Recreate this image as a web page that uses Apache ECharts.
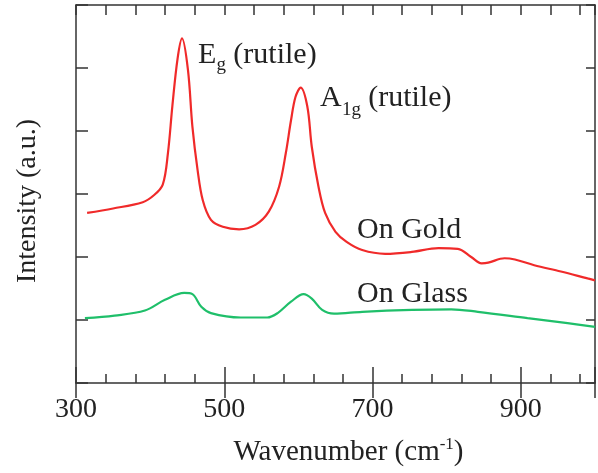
<!DOCTYPE html>
<html>
<head>
<meta charset="utf-8">
<script src="https://cdn.jsdelivr.net/npm/echarts@6/dist/echarts.min.js"></script>
<style>
    html, body {margin: 0; padding: 0; background: #fff;}
    #chart {width: 598px; height: 473px;}
</style>
</head>
<body>
<div id="chart"></div>
<script>
    // Raman spectra (wavenumber, intensity in tick units)
    var goldWn = [315, 350, 390, 405, 417, 424, 430, 437, 443, 451, 457, 464, 471, 482, 498, 520, 542, 560, 574, 583,
        590, 596, 603, 612, 618, 627, 636, 650, 665, 686, 717, 753, 789, 815, 833, 847, 856, 878, 892, 918, 954, 990, 1000];
    var goldVal = [2.70, 2.77, 2.87, 2.98, 3.15, 3.65, 4.40, 5.15, 5.47, 4.97, 4.07, 3.38, 2.90, 2.59, 2.48, 2.44, 2.51, 2.72, 3.12, 3.65,
        4.17, 4.54, 4.69, 4.39, 3.75, 3.12, 2.70, 2.40, 2.24, 2.11, 2.05, 2.08, 2.14, 2.13, 2.00, 1.90, 1.91, 1.98, 1.96, 1.87, 1.77, 1.66, 1.63];
    var glassWn = [312, 352, 393, 420, 446, 457, 469, 482, 522, 558, 572, 590, 607, 618, 632, 648, 686, 753, 806, 842, 909, 963, 1000];
    var glassVal = [1.03, 1.07, 1.15, 1.32, 1.43, 1.41, 1.21, 1.11, 1.04, 1.04, 1.11, 1.29, 1.41, 1.34, 1.16, 1.10, 1.13, 1.16, 1.17, 1.13, 1.03, 0.95, 0.89];
    var xLabels = [300, 500, 700, 900];

    var font = 'Liberation Serif';
    var ink = '#222';
    var frame = {lineStyle: {color: '#333', width: 1.5}};

    var pairs = function (xs, ys) {
        return xs.map(function (x, i) {
            return [x, ys[i]];
        });
    };
    // subscript tokens are transparent placeholders, the visible subscript is drawn lower by sub()
    var rich = {
        m: {fontFamily: font, fontSize: 30, lineHeight: 30, fill: ink},
        s: {fontFamily: font, fontSize: 19, lineHeight: 30, fill: 'rgba(0,0,0,0)'}
    };
    var note = function (text, x, y) {
        return {type: 'text', x: x, y: y, z: 10, style: {text: text, rich: rich, fill: ink}};
    };
    var sub = function (text, x, y) {
        return {type: 'text', x: x, y: y, z: 10, style: {text: text, fontFamily: font, fontSize: 19, fill: ink}};
    };

    var xBase = {
        type: 'value', min: 300, max: 1000,
        axisLine: {show: true, onZero: false, lineStyle: frame.lineStyle},
        splitLine: {show: false}
    };
    var yBase = {
        type: 'value', min: 0, max: 6, interval: 1,
        axisLabel: {show: false},
        splitLine: {show: false}
    };

    var option = {
        backgroundColor: '#fff',
        animation: false,
        grid: {left: 76, right: 0, top: 5, bottom: 90}
    };

    option.xAxis = [
        Object.assign({}, xBase, {
            position: 'bottom', interval: 40,
            axisTick: {inside: true, length: 9, lineStyle: frame.lineStyle},
            axisLabel: {show: false}
        }),
        Object.assign({}, xBase, {
            position: 'bottom', interval: 200,
            axisLine: {show: false},
            axisTick: {inside: true, length: 16, lineStyle: frame.lineStyle},
            axisLabel: {
                margin: 13, fontFamily: font, fontSize: 28, color: ink,
                formatter: function (v) {
                    return xLabels.indexOf(v) >= 0 ? String(v) : '';
                }
            },
            name: '{a|Wavenumber (cm}{s|-1}{a|)}',
            nameLocation: 'middle',
            nameGap: 53,
            nameTextStyle: {
                padding: [0, 0, 0, 26],
                rich: {
                    a: {fontFamily: font, fontSize: 29, lineHeight: 32, color: ink},
                    s: {fontFamily: font, fontSize: 17, lineHeight: 16, verticalAlign: 'top', color: ink}
                }
            }
        }),
        Object.assign({}, xBase, {
            position: 'top', interval: 40,
            axisTick: {inside: true, length: 10, lineStyle: frame.lineStyle},
            axisLabel: {show: false}
        }),
        Object.assign({}, xBase, {
            position: 'top', interval: 200,
            axisLine: {show: false},
            axisTick: {inside: true, length: 15, lineStyle: frame.lineStyle},
            axisLabel: {show: false}
        })
    ];
    option.yAxis = [
        Object.assign({}, yBase, {
            position: 'left',
            axisLine: {show: true, lineStyle: frame.lineStyle},
            axisTick: {inside: true, length: 12, lineStyle: frame.lineStyle},
            name: 'Intensity (a.u.)',
            nameLocation: 'middle',
            nameGap: 34,
            nameTextStyle: {fontFamily: font, fontSize: 28, color: ink, padding: [0, 14, 0, 0]}
        }),
        Object.assign({}, yBase, {
            position: 'right',
            axisLine: {show: true, lineStyle: frame.lineStyle},
            axisTick: {inside: true, length: 9, lineStyle: frame.lineStyle}
        })
    ];
    option.series = [{
        name: 'On Gold',
        type: 'line',
        smooth: 0.35,
        showSymbol: false,
        lineStyle: {color: '#f02a2a', width: 2.2},
        data: pairs(goldWn, goldVal)
    }, {
        name: 'On Glass',
        type: 'line',
        smooth: 0.35,
        showSymbol: false,
        lineStyle: {color: '#1fbf6a', width: 2.2},
        data: pairs(glassWn, glassVal)
    }];
    option.graphic = [
        note('{m|E}{s|g}{m| (rutile)}', 198, 40),
        sub('g', 216.5, 56),
        note('{m|A}{s|1g}{m| (rutile)}', 320, 83),
        sub('1g', 342, 101),
        note('{m|On Gold}', 357, 215),
        note('{m|On Glass}', 357, 279)
    ];

    var chart = echarts.init(document.getElementById('chart'));
    chart.setOption(option);
</script>
</body>
</html>
